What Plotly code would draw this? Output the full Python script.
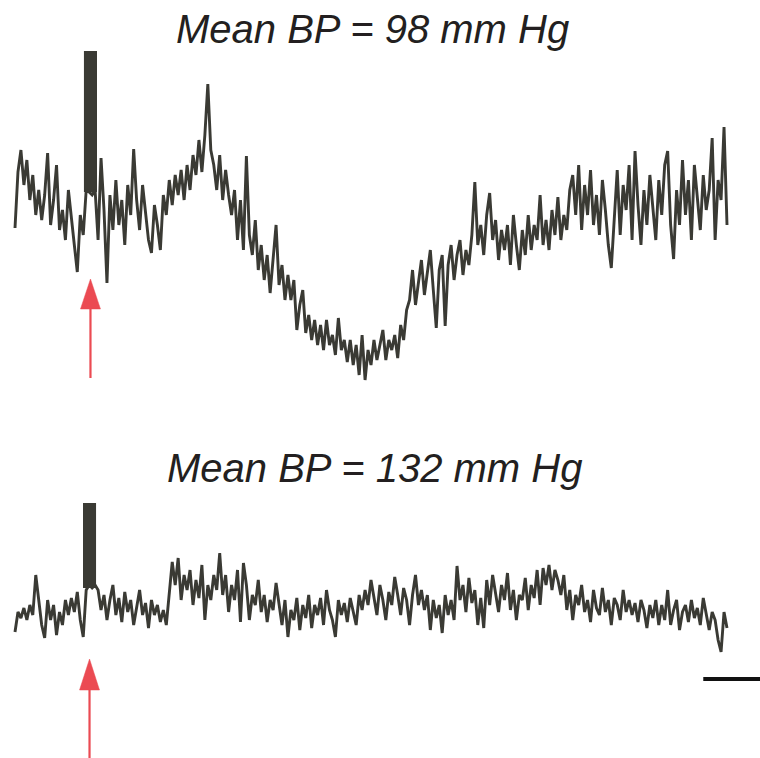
import numpy as np
import plotly.graph_objects as go

# ---------------- data ----------------
SAMPLE_DT = 0.25  # s between samples
titles = ["Mean BP = 98 mm Hg", "Mean BP = 132 mm Hg"]

top_values = [
    -2.8, 2.8, 5.0, 1.5, 4.0, 0.0, 2.5, -1.5, 1.0, -2.0,
    0.5, 4.7, -2.5, 0.0, 3.5, -3.0, -1.0, -4.0, 1.0, -2.0,
    -4.5, -7.2, -1.5, -3.5,
    1.0, 0.8, 0.5, 1.0,
    -4.0, 4.2, -1.0, -8.3, 0.5, -3.0, 2.0, -2.5, 0.0, -4.5,
    1.5, -1.5, 5.1, 0.0, -3.0, 1.5, -1.0, -4.0, -5.3, -0.5,
    -2.5, -5.0, 0.5, -1.5, 2.0, -0.5, 2.5, 0.5, 3.0, 0.0,
    3.5, 1.0, 4.5, 2.5, 6.0, 2.8, 6.5,
    11.6,
    5.0, 3.5, 1.0, 4.5, 0.0, 3.0, 0.5,
    -1.5, 1.0, -4.0, 0.0, -5.0, 4.4, -3.5, -5.5, -2.0, -7.0,
    -4.5, -8.0, -5.5, -9.3, -6.2, -2.5, -8.5, -6.5, -10.0, -7.5,
    -10.0, -8.0, -13.0, -10.5, -9.0, -13.3, -11.5, -14.0, -12.0, -14.5,
    -12.5, -15.0, -12.0, -14.5, -13.5, -15.5, -11.8, -15.0, -14.0, -16.2,
    -14.0, -16.5, -14.5, -17.5, -13.5, -18.0, -15.0, -16.5, -14.0, -16.0,
    -14.5, -13.0, -16.0, -14.0, -15.0, -13.5, -15.8, -12.5, -14.0, -11.0,
    -10.0, -7.0, -10.5, -8.5, -6.0, -9.5, -7.5, -5.0, -9.0, -12.8,
    -7.0, -5.5, -12.6, -6.5, -4.5, -8.0, -5.5, -4.0, -7.5, -5.0,
    -6.5, -3.5, 1.8, -4.5, -2.5, -5.5, -1.5, 0.7, -4.0, -2.0,
    -6.0, -3.0, -5.0, -2.5, -6.5, -1.5, -4.5, -7.0, -3.0, -5.5,
    -1.5, -5.0, -2.5, -4.0, 0.5, -4.5, -2.0, -5.0, -1.0, -3.5,
    0.3, -4.0, -1.5, -3.0, 1.0, 2.5, -1.5, 3.5, -3.0, 1.5,
    -1.5, 3.0, -2.5, 0.5, -3.5, 2.0, -1.0, -4.5, -6.8, -1.5,
    3.0, -3.5, 1.5, -1.0, 3.5, -4.0, 4.9, -0.5, -4.5, 1.0,
    -2.5, 2.5, -1.0, -4.0, 2.0, -1.5, 3.5, 4.9, -2.5, -5.9,
    1.0, -2.5, 4.0, -1.5, 2.0, -4.0, 3.5, 0.0, -3.0, 2.5,
    -1.0, 1.0, 6.2, -4.0, 2.0, 0.0, 7.3, -2.5,
]

bottom_values = [
    -2.2, -0.2, -0.8, 0.2, -1.0, 0.5, -0.5, 3.5, 1.0, -1.5,
    -2.8, 1.0, -1.0, 0.5, -2.5, -0.2, -1.5, 1.0, -0.5, 1.2,
    -0.2, 1.8, -1.0, -2.7,
    2.0, 2.5, 2.2, 2.5,
    2.0, 0.0, 1.5, -1.0, 1.0, 2.5, -0.5, 1.2, -1.2, 1.8,
    -0.2, 1.0, -1.5, 0.5, 2.0, -0.5, 0.7, -1.8, 1.0, -0.5,
    0.5, -1.2, 0.0, -1.5, 1.5, 4.8, 2.5, 5.2, 1.0, 3.5,
    2.0, 4.0, 0.5, 3.0, 1.2, 4.5, -1.0, 2.5, 1.0, 3.5,
    2.0, 5.7, 1.5, 3.5, -0.2, 2.5, 1.0, 4.0, -1.2, 4.7,
    2.5, -1.0, 1.5, 0.5, 3.0, -0.2, 1.5, -1.2, 1.0, 0.0,
    2.7, 0.5, -1.5, 1.0, -2.7, 0.0, -1.0, 1.2, -2.0, 0.5,
    -0.8, 1.5, -1.8, 0.5, -0.5, 1.2, -1.5, 2.0, 0.0, -1.0,
    -2.7, 1.0, -0.5, 0.7, -1.2, 1.2, -0.2, -1.5, 1.5, 0.0,
    2.0, 0.5, 3.0, 1.0, -0.5, 2.5, 1.0, -1.0, 1.8, 0.5,
    3.3, 1.5, -0.5, 2.2, 1.0, -1.5, 1.5, 3.5, 0.5, 2.0,
    0.0, 1.5, -2.0, 1.0, -0.8, 0.5, -2.3, 1.5, -0.5, 1.0,
    -1.0, 4.4, 1.0, 2.5, -0.2, 3.2, 0.7, 2.0, -1.5, 1.2,
    -1.8, 3.0, 0.5, 3.5, 1.5, -0.2, 2.5, 1.0, 3.7, 0.0,
    2.0, -1.0, 1.5, 1.0, 3.2, 0.0, 2.5, 1.2, 4.0, 0.5,
    4.2, 2.5, 4.5, 2.0, 4.0, 3.0, 1.5, 3.5, 0.0, 2.0,
    -1.0, 1.5, 0.5, 2.5, -0.2, 1.0, -1.2, 2.0, 0.2, -0.5,
    2.2, -0.2, 1.0, -1.5, 1.2, 0.5, -1.0, 2.0, -0.2, 1.0,
    -0.5, 0.7, -1.2, 1.0, 0.0, -1.8, 0.5, -0.8, 1.0, -1.5,
    0.5, -1.0, 2.0, -1.5, 0.0, 1.0, -2.0, -0.2, 0.5, -1.2,
    1.0, -0.8, 0.2, -1.5, 1.2, -0.5, -2.0, -0.2, -1.0, -3.0,
    -4.2, -0.2, -1.8,
]

# stimulus artifact (time, base, top) for each trace
stim_times = [6.36, 6.28]
stim_width = 1.1
stim_base = [0.8, 2.2]
stim_top = [14.9, 10.7]
scale_bar_s = 5.0

# ---------------- figure ----------------
W, H = 760, 758
TRACE = "#3a3a34"
RED = "#eb4a52"

t_top = np.arange(len(top_values)) * SAMPLE_DT
t_bot = np.arange(len(bottom_values)) * SAMPLE_DT

fig = go.Figure()
fig.add_trace(go.Scatter(x=t_top, y=top_values, mode="lines",
                         line=dict(color=TRACE, width=2.9), yaxis="y",
                         hoverinfo="skip"))
fig.add_trace(go.Scatter(x=t_bot, y=bottom_values, mode="lines",
                         line=dict(color=TRACE, width=2.9), yaxis="y2",
                         hoverinfo="skip"))
fig.add_trace(go.Bar(x=[stim_times[0]], y=[stim_top[0] - stim_base[0]],
                     base=[stim_base[0]], width=[stim_width],
                     marker=dict(color=TRACE, line=dict(width=0)), yaxis="y"))
fig.add_trace(go.Bar(x=[stim_times[1]], y=[stim_top[1] - stim_base[1]],
                     base=[stim_base[1]], width=[stim_width],
                     marker=dict(color=TRACE, line=dict(width=0)), yaxis="y2"))


def py(px):
    return 1 - px / H


shapes = []
# red arrows (stimulus markers)
for st, tip, base_px, tail in [(stim_times[0], 279, 309, 378),
                               (stim_times[1], 659, 690, 758)]:
    hw = 0.84
    shapes.append(dict(type="line", xref="x", yref="paper",
                       x0=st, x1=st, y0=py(tail), y1=py(base_px - 2),
                       line=dict(color=RED, width=2.2)))
    shapes.append(dict(type="path", xref="x", yref="paper",
                       path=f"M {st},{py(tip)} L {st - hw},{py(base_px)} L {st + hw},{py(base_px)} Z",
                       fillcolor=RED, line=dict(color=RED, width=0.5)))
# time scale bar
shapes.append(dict(type="line", xref="x", yref="paper",
                   x0=58.0, x1=58.0 + scale_bar_s, y0=py(679), y1=py(679),
                   line=dict(color="#111111", width=4)))

annotations = [
    dict(text=f"<i>{titles[0]}</i>", xref="paper", yref="paper",
         x=372 / W, y=py(29), xanchor="center", yanchor="middle",
         showarrow=False, font=dict(size=40, color="#231f20", family="Liberation Sans, Arial")),
    dict(text=f"<i>{titles[1]}</i>", xref="paper", yref="paper",
         x=374 / W, y=py(468), xanchor="center", yanchor="middle",
         showarrow=False, font=dict(size=40, color="#231f20", family="Liberation Sans, Arial")),
]

fig.update_layout(
    width=W, height=H,
    margin=dict(l=0, r=0, t=0, b=0),
    paper_bgcolor="white", plot_bgcolor="white",
    showlegend=False, barmode="overlay",
    xaxis=dict(range=[-1.264, 62.781], visible=False, fixedrange=True),
    yaxis=dict(range=[-55.8, 20.0], visible=False, domain=[0, 1]),
    yaxis2=dict(range=[-14.8, 61.0], visible=False, overlaying="y"),
    shapes=shapes, annotations=annotations,
)

fig.write_html("out.html", config={"displayModeBar": False},
               post_script="document.body.style.margin='0';document.body.style.overflow='hidden';")
